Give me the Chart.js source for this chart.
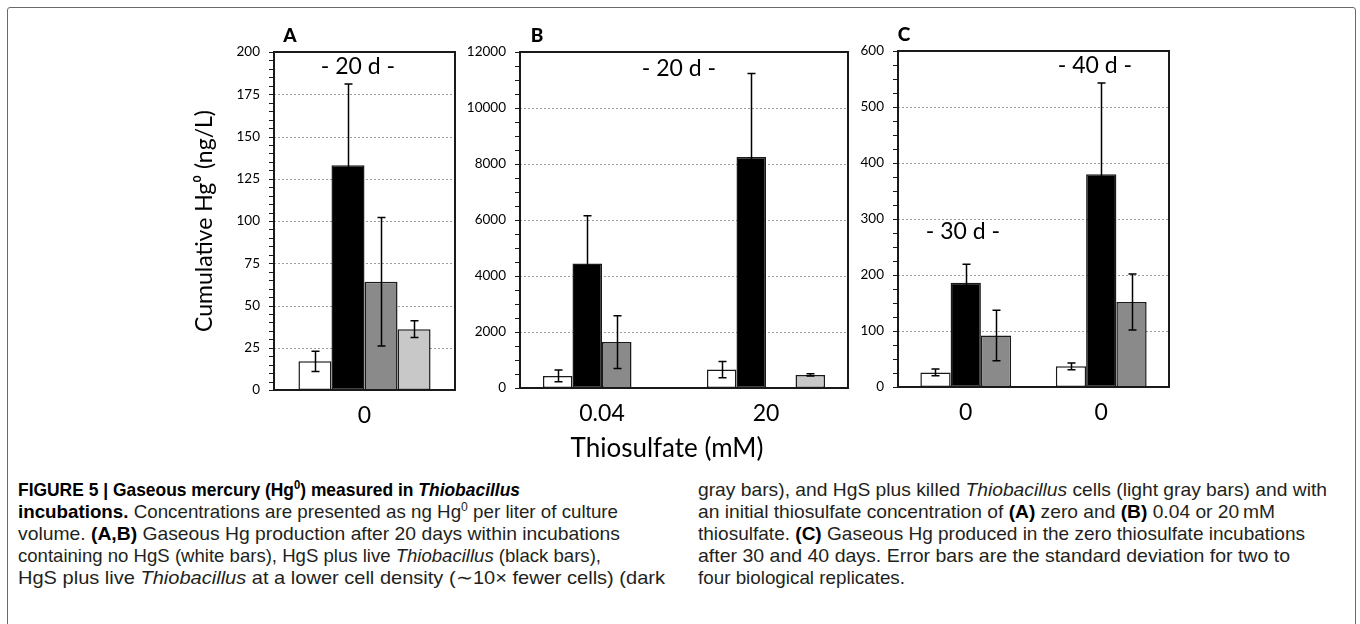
<!DOCTYPE html>
<html><head><meta charset="utf-8">
<script src="https://cdn.jsdelivr.net/npm/chart.js@4.4.1/dist/chart.umd.min.js"></script>
<style>
html,body{margin:0;padding:0;background:#fff;}
body{width:1360px;height:624px;position:relative;overflow:hidden;font-family:Lato,'Open Sans',sans-serif;}
#frame{position:absolute;left:7px;top:7px;width:1349px;height:660px;border:1.5px solid #6a6a6a;border-radius:3px;box-sizing:border-box;}
canvas{position:absolute;top:0;}
.lbl{position:absolute;white-space:nowrap;font-family:Lato,sans-serif;color:#000;line-height:1;transform:translate(-50%,-50%);}
.cap{position:absolute;white-space:nowrap;font-family:'Liberation Sans Narrow','Liberation Sans',Arial,sans-serif;font-size:18.5px;color:#231f20;line-height:22px;transform-origin:0 50%;}
.cap sup{font-size:12px;line-height:0;vertical-align:7px;}
</style></head>
<body>
<div id="frame"></div>
<canvas id="cA" width="297" height="470" style="left:170px"></canvas>
<canvas id="cB" width="405" height="470" style="left:455px"></canvas>
<canvas id="cC" width="331" height="470" style="left:850px"></canvas>
<div class="lbl" style="left:290px;top:34px;font-weight:900;font-size:19px">A</div>
<div class="lbl" style="left:537px;top:34px;font-weight:900;font-size:19px">B</div>
<div class="lbl" style="left:904px;top:33px;font-weight:900;font-size:19px">C</div>
<div class="lbl" style="left:358px;top:65px;font-size:23px">- 20 d -</div>
<div class="lbl" style="left:679px;top:67px;font-size:23px">- 20 d -</div>
<div class="lbl" style="left:1095px;top:64px;font-size:23px">- 40 d -</div>
<div class="lbl" style="left:963px;top:230px;font-size:23px">- 30 d -</div>
<div class="lbl" style="left:667px;top:447px;font-size:26px">Thiosulfate (mM)</div>
<div id="caps"></div>
<script>
// ---- data ----
const categoriesA = ['0'];
const categoriesB = ['0.04', '20'];
const categoriesC = ['0', '0'];
const seriesNames = ['No HgS', 'HgS + live Thiobacillus', 'HgS + live Thiobacillus (fewer cells)', 'HgS + killed Thiobacillus'];
const seriesColors = ['#ffffff', '#000000', '#8a8a8a', '#c8c8c8'];

const whiteA = [17],   whiteErrA = [6];
const blackA = [133],  blackErrA = [48];
const darkA  = [64],   darkErrA  = [38];
const lightA = [36],   lightErrA = [5];

const whiteB = [430, 660],   whiteErrB = [210, 290];
const blackB = [4450, 8250], blackErrB = [1700, 2980];
const darkB  = [1640, null], darkErrB  = [940, null];
const lightB = [null, 465],  lightErrB = [null, 40];

const whiteC = [26, 37],   whiteErrC = [6, 6];
const blackC = [186, 380], blackErrC = [33, 163];
const darkC  = [92, 152],  darkErrC  = [45, 50];

const yTicksA = {max: 200, step: 25, minor: 5};
const yTicksB = {max: 12000, step: 2000, minor: 500};
const yTicksC = {max: 600, step: 100, minor: 25};

// ---- plugins ----
const errorBars = {
  id: 'errorBars',
  afterDatasetsDraw(chart) {
    const ctx = chart.ctx, y = chart.scales.y;
    chart.data.datasets.forEach((ds, di) => {
      const meta = chart.getDatasetMeta(di);
      meta.data.forEach((bar, i) => {
        const v = ds.data[i], e = ds.errors ? ds.errors[i] : null;
        if (v == null || e == null) return;
        const x = Math.round(bar.x) + 0.5;
        const yt = y.getPixelForValue(v + e), yb = y.getPixelForValue(Math.max(v - e, 0));
        ctx.save();
        ctx.strokeStyle = '#000'; ctx.lineWidth = 1.5;
        ctx.beginPath();
        ctx.moveTo(x, yt); ctx.lineTo(x, yb);
        ctx.moveTo(x - 4, yt); ctx.lineTo(x + 4, yt);
        ctx.moveTo(x - 4, yb); ctx.lineTo(x + 4, yb);
        ctx.stroke();
        ctx.restore();
      });
    });
  }
};
const frame = {
  id: 'frame',
  beforeDatasetsDraw(chart) {
    const ctx = chart.ctx, a = chart.chartArea, y = chart.scales.y;
    ctx.save();
    ctx.strokeStyle = '#9c9c9c'; ctx.lineWidth = 1; ctx.setLineDash([2, 2]);
    y.ticks.forEach(t => {
      if (t.value <= y.min || t.value >= y.max) return;
      const py = Math.round(y.getPixelForValue(t.value)) + 0.5;
      ctx.beginPath(); ctx.moveTo(a.left, py); ctx.lineTo(a.right, py); ctx.stroke();
    });
    ctx.restore();
  },
  afterDraw(chart, args, opts) {
    const ctx = chart.ctx, a = chart.chartArea, y = chart.scales.y;
    ctx.save();
    ctx.strokeStyle = '#1a1a1a'; ctx.lineWidth = 1.2;
    ctx.beginPath();
    for (let v = y.min; v <= y.max + 1e-9; v += opts.minor) {
      const py = Math.round(y.getPixelForValue(v)) + 0.5;
      ctx.moveTo(a.left - 5, py); ctx.lineTo(a.left, py);
    }
    ctx.stroke();
    ctx.lineWidth = 2;
    ctx.strokeRect(a.left, a.top, a.right - a.left, a.bottom - a.top);
    ctx.restore();
  }
};

function makeDatasets(vals, errs) {
  return vals.map((v, i) => ({
    label: seriesNames[i], data: v, errors: errs[i],
    backgroundColor: seriesColors[i], borderColor: '#1a1a1a', borderWidth: 1.5, borderSkipped: false
  }));
}

function makeChart(id, canvasLeft, box, labels, vals, errs, yt, catPct, title) {
  const cv = document.getElementById(id);
  const H = cv.height, W = cv.width;
  return new Chart(cv, {
    type: 'bar',
    data: {labels: labels, datasets: makeDatasets(vals, errs)},
    options: {
      responsive: false, animation: false, devicePixelRatio: 1,
      layout: {padding: {top: box.top, right: canvasLeft + W - box.right, left: 0, bottom: 0}},
      datasets: {bar: {categoryPercentage: catPct, barPercentage: 1}},
      plugins: {legend: {display: false}, tooltip: {enabled: false}, frame: {minor: yt.minor}},
      scales: {
        x: {
          grid: {display: false, drawTicks: false}, border: {display: false},
          ticks: {font: {family: 'Lato', size: 23}, color: '#000', padding: 12},
          afterFit: s => { s.height = H - box.bottom; }
        },
        y: {
          min: 0, max: yt.max,
          grid: {display: false, drawTicks: false}, border: {display: false},
          ticks: {stepSize: yt.step, font: {family: 'Lato', size: 13.5}, color: '#000', padding: 14,
                  callback: v => String(v)},
          title: title ? {display: true, text: title, font: {family: 'Lato', size: 23}, color: '#000', padding: {top: 21, bottom: 0}} : {display: false},
          afterFit: s => { s.width = box.left - canvasLeft; }
        }
      }
    },
    plugins: [frame, errorBars]
  });
}

makeChart('cA', 170, {left: 274, right: 455, top: 52, bottom: 390}, categoriesA,
  [whiteA, blackA, darkA, lightA], [whiteErrA, blackErrA, darkErrA, lightErrA], yTicksA, 0.73, 'Cumulative Hg\u2070 (ng/L)');
makeChart('cB', 455, {left: 520, right: 848, top: 52, bottom: 388}, categoriesB,
  [whiteB, blackB, darkB, lightB], [whiteErrB, blackErrB, darkErrB, lightErrB], yTicksB, 0.72, null);
makeChart('cC', 850, {left: 898, right: 1169, top: 51, bottom: 387}, categoriesC,
  [whiteC, blackC, darkC], [whiteErrC, blackErrC, darkErrC], yTicksC, 0.67, null);

// ---- caption ----
const captionLeft = [
  [['b', 'FIGURE 5 | Gaseous mercury (Hg'], ['bs', '0'], ['b', ') measured in '], ['bi', 'Thiobacillus']],
  [['b', 'incubations.'], ['n', ' Concentrations are presented as ng Hg'], ['s', '0'], ['n', ' per liter of culture']],
  [['n', 'volume. '], ['b', '(A,B)'], ['n', ' Gaseous Hg production after 20 days within incubations']],
  [['n', 'containing no HgS (white bars), HgS plus live '], ['i', 'Thiobacillus'], ['n', ' (black bars),']],
  [['n', 'HgS plus live '], ['i', 'Thiobacillus'], ['n', ' at a lower cell density (\u223C10\u00D7 fewer cells) (dark']]
];
const captionRight = [
  [['n', 'gray bars), and HgS plus killed '], ['i', 'Thiobacillus'], ['n', ' cells (light gray bars) and with']],
  [['n', 'an initial thiosulfate concentration of '], ['b', '(A)'], ['n', ' zero and '], ['b', '(B)'], ['n', ' 0.04 or 20\u2009mM']],
  [['n', 'thiosulfate. '], ['b', '(C)'], ['n', ' Gaseous Hg produced in the zero thiosulfate incubations']],
  [['n', 'after 30 and 40 days. Error bars are the standard deviation for two to']],
  [['n', 'four biological replicates.']]
];
// reference line widths (px) used to fit each caption line
const captionLeftWidths = [502, 600, 602, 583, 647];
const captionRightWidths = [629, 577, 607, 592, 207];

function segHTML(seg) {
  const [st, t] = seg;
  let css = '';
  if (st.includes('b')) css += 'font-weight:700;color:#000;';
  if (st.includes('i')) css += 'font-style:italic;';
  return st.includes('s') ? `<sup style="${css}">${t}</sup>` : `<span style="${css}">${t}</span>`;
}
const capsEl = document.getElementById('caps');
function addColumn(lines, widths, x, y0) {
  lines.forEach((segs, i) => {
    const d = document.createElement('div');
    d.className = 'cap';
    d.style.left = x + 'px';
    d.style.top = (y0 + i * 22 - 11) + 'px';
    d.innerHTML = segs.map(segHTML).join('');
    capsEl.appendChild(d);
    const k = widths[i] / d.getBoundingClientRect().width;
    d.style.transform = `scaleX(${k})`;
  });
}
addColumn(captionLeft, captionLeftWidths, 18, 490);
addColumn(captionRight, captionRightWidths, 698, 490);
</script>
</body></html>
